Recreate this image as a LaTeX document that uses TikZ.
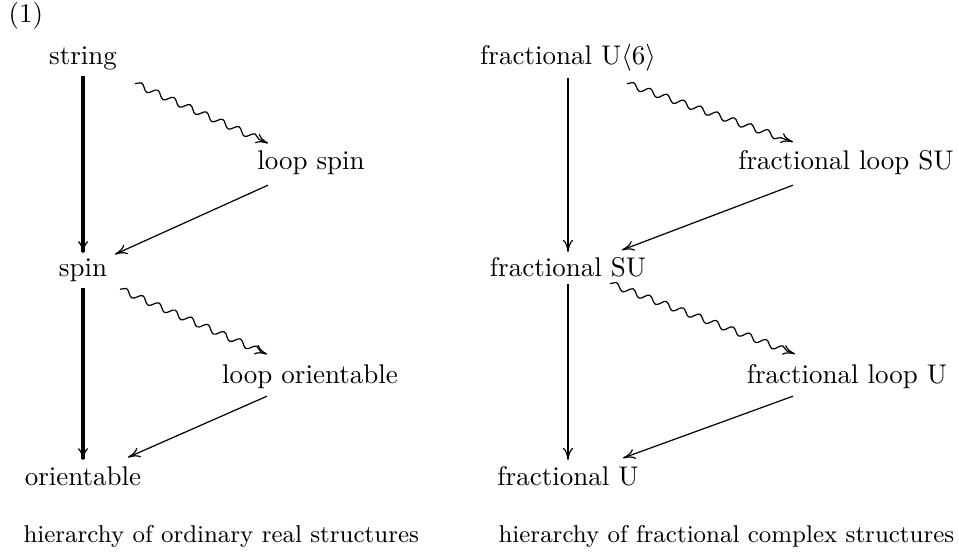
\documentclass[tikz,border=0pt]{standalone}
\usetikzlibrary{arrows.meta,decorations.pathmorphing}
\tikzset{
  lbl/.style={anchor=base, inner sep=2pt},
  captext/.style={anchor=base west, inner sep=0pt, font=\small},
  tipcm/.tip={Computer Modern Rightarrow[line width=0.45pt,length=4.5pt,width=3.8pt]},
  thickarr/.style={line width=1.3pt, -tipcm},
  medarr/.style={line width=0.8pt, -tipcm},
  thinarr/.style={line width=0.45pt, -tipcm},
  wavyarr/.style={line width=0.45pt, -tipcm, decorate,
    decoration={snake, amplitude=1.2pt, segment length=6.6pt, post length=2.5pt}}
}
\begin{document}
\begin{tikzpicture}[x=0.37037pt,y=-0.37037pt]
\useasboundingbox (0,0) rectangle (959,553);
% left diagram
\node[anchor=base west, inner sep=0pt] (num) at (8,23) {(1)};
\node[lbl] (string) at (83,65) {string};
\node[lbl] (loopspin) at (311,170) {loop spin};
\node[lbl] (spin) at (83,277) {spin};
\node[lbl] (looporient) at (310,383) {loop orientable};
\node[lbl] (orient) at (83,485) {orientable};
\node[captext] (capL) at (23,542) {hierarchy of ordinary real structures};
\draw[thickarr] (string.south) -- (spin.north);
\draw[thickarr] (spin.south) -- (orient.north);
\draw[wavyarr] ([shift={(52,7)}]string.south) -- ([shift={(-43,-2)}]loopspin.north);
\draw[wavyarr] ([shift={(37,1)}]spin.south) -- ([shift={(-43,-4)}]looporient.north);
\draw[thinarr] ([shift={(-43,4)}]loopspin.south) -- ([shift={(32,1)}]spin.north);
\draw[thinarr] ([shift={(-43,2)}]looporient.south) -- ([shift={(45,-3)}]orient.north);
% right diagram
\node[lbl] (fu6) at (568,65) {fractional U$\langle 6\rangle$};
\node[lbl] (flsu) at (846,170) {fractional loop SU};
\node[lbl] (fsu) at (568,277) {fractional SU};
\node[lbl] (flu) at (847,383) {fractional loop U};
\node[lbl] (fu) at (568,485) {fractional U};
\node[captext] (capR) at (498,542) {hierarchy of fractional complex structures};
\draw[medarr] (fu6.south) -- (fsu.north);
\draw[medarr] (fsu.south) -- (fu.north);
\draw[wavyarr] ([shift={(59,6)}]fu6.south) -- ([shift={(-53,-3)}]flsu.north);
\draw[wavyarr] ([shift={(42,0)}]fsu.south) -- ([shift={(-52,-4)}]flu.north);
\draw[thinarr] ([shift={(-53,4)}]flsu.south) -- ([shift={(54,-2)}]fsu.north);
\draw[thinarr] ([shift={(-54,2)}]flu.south) -- ([shift={(55,-2)}]fu.north);
\end{tikzpicture}
\end{document}
